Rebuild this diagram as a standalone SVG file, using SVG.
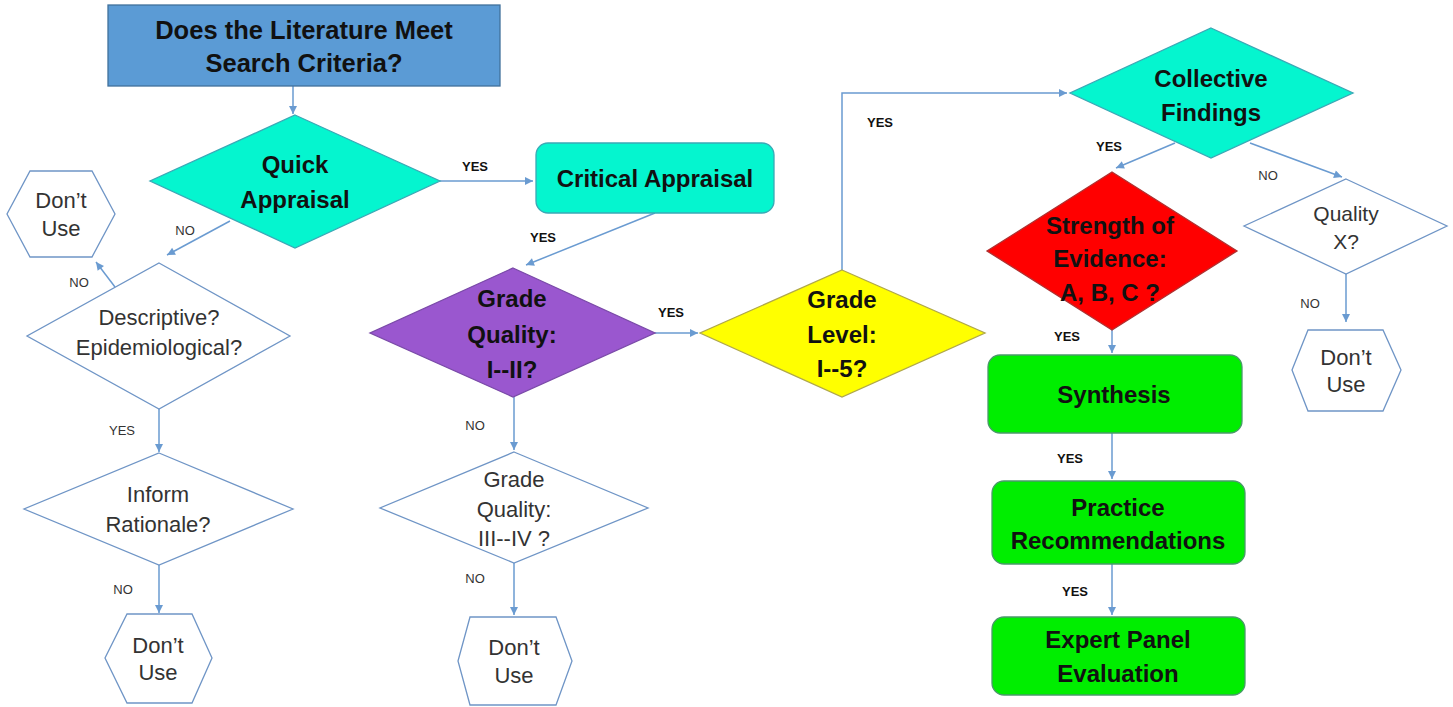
<svg xmlns="http://www.w3.org/2000/svg" width="1453" height="707" viewBox="0 0 1453 707">
<style>
.b{font-family:"Liberation Sans",Arial,sans-serif;font-weight:bold;font-size:24px;fill:#111;text-anchor:middle}
.r{font-family:"Liberation Sans",Arial,sans-serif;font-size:22px;fill:#333;text-anchor:middle}
.lb{font-family:"Liberation Sans",Arial,sans-serif;font-weight:bold;font-size:13px;fill:#111;text-anchor:middle}
.lr{font-family:"Liberation Sans",Arial,sans-serif;font-size:13px;fill:#333;text-anchor:middle}
.t{font-size:25.5px}
.s{font-size:21px}
.w{fill:#fff;stroke:#6f95c6;stroke-width:1.3}
.teal{fill:#05F5CF;stroke:#3aa9b6;stroke-width:1.3}
.grn{fill:#00EE00;stroke:#4a9a6a;stroke-width:1.3}
.c{fill:none;stroke:#6a9bd1;stroke-width:1.5}
</style>
<defs>
<marker id="ah" viewBox="0 0 10 10" refX="10" refY="5" markerWidth="9" markerHeight="8" markerUnits="userSpaceOnUse" orient="auto">
<path d="M0,0 L10,5 L0,10 z" fill="#6a9bd1"/>
</marker>
</defs>
<rect width="1453" height="707" fill="#fff"/>
<g id="connectors">
<line class="c" x1="293" y1="86" x2="293" y2="114" marker-end="url(#ah)"/>
<line class="c" x1="440" y1="181" x2="533" y2="181" marker-end="url(#ah)"/>
<line class="c" x1="230" y1="221" x2="167" y2="255" marker-end="url(#ah)"/>
<line class="c" x1="115" y1="287" x2="96" y2="262" marker-end="url(#ah)"/>
<line class="c" x1="159" y1="409" x2="159" y2="452" marker-end="url(#ah)"/>
<line class="c" x1="159" y1="565" x2="159" y2="613" marker-end="url(#ah)"/>
<line class="c" x1="655" y1="213" x2="526" y2="265" marker-end="url(#ah)"/>
<line class="c" x1="655" y1="333" x2="698" y2="333" marker-end="url(#ah)"/>
<line class="c" x1="514" y1="397" x2="514" y2="450" marker-end="url(#ah)"/>
<line class="c" x1="514" y1="563" x2="514" y2="615" marker-end="url(#ah)"/>
<polyline class="c" points="842,270 842,93 1067,93" marker-end="url(#ah)"/>
<line class="c" x1="1175" y1="143" x2="1116" y2="168" marker-end="url(#ah)"/>
<line class="c" x1="1250" y1="143" x2="1342" y2="177" marker-end="url(#ah)"/>
<line class="c" x1="1346" y1="274" x2="1346" y2="322" marker-end="url(#ah)"/>
<line class="c" x1="1112" y1="330" x2="1112" y2="353" marker-end="url(#ah)"/>
<line class="c" x1="1112" y1="433" x2="1112" y2="479" marker-end="url(#ah)"/>
<line class="c" x1="1112" y1="564" x2="1112" y2="615" marker-end="url(#ah)"/>
<text class="lb" x="475" y="171">YES</text>
<text class="lr" x="185" y="235">NO</text>
<text class="lr" x="79" y="287">NO</text>
<text class="lr" x="122" y="435">YES</text>
<text class="lr" x="123" y="594">NO</text>
<text class="lb" x="543" y="242">YES</text>
<text class="lb" x="671" y="317">YES</text>
<text class="lr" x="475" y="430">NO</text>
<text class="lr" x="475" y="583">NO</text>
<text class="lb" x="880" y="127">YES</text>
<text class="lb" x="1109" y="151">YES</text>
<text class="lr" x="1268" y="180">NO</text>
<text class="lr" x="1310" y="308">NO</text>
<text class="lb" x="1067" y="341">YES</text>
<text class="lb" x="1070" y="463">YES</text>
<text class="lb" x="1075" y="596">YES</text>
</g>
<g id="search-criteria">
<rect x="108" y="5" width="392" height="81" fill="#5B9BD5" stroke="#41719C" stroke-width="1.3"/>
<text class="b t" x="304" y="39">Does the Literature Meet</text>
<text class="b t" x="304" y="72">Search Criteria?</text>
</g>
<g id="quick-appraisal">
<polygon class="teal" points="295,115 440,181 295,248 150,181"/>
<text class="b" x="295" y="173">Quick</text>
<text class="b" x="295" y="208">Appraisal</text>
</g>
<g id="dont-use-1">
<polygon class="w" points="30,171 92,171 115,214 92,257 30,257 7,214"/>
<text class="r" x="61" y="208">Don’t</text>
<text class="r" x="61" y="236">Use</text>
</g>
<g id="descriptive">
<polygon class="w" points="159,263 290,336 159,409 27,336"/>
<text class="r" x="159" y="325">Descriptive?</text>
<text class="r" x="159" y="355">Epidemiological?</text>
</g>
<g id="inform-rationale">
<polygon class="w" points="159,453 293,509 159,565 24,509"/>
<text class="r" x="158" y="502">Inform</text>
<text class="r" x="158" y="532">Rationale?</text>
</g>
<g id="dont-use-2">
<polygon class="w" points="127,614 192,614 212,658 192,703 127,703 105,658"/>
<text class="r" x="158" y="653">Don’t</text>
<text class="r" x="158" y="680">Use</text>
</g>
<g id="critical-appraisal">
<rect class="teal" x="536" y="143" width="238" height="70" rx="12"/>
<text class="b" x="655" y="187">Critical Appraisal</text>
</g>
<g id="grade-quality-1-2">
<polygon points="513,268 655,333 513,397 370,333" fill="#9A57CF" stroke="#7a4aa8" stroke-width="1.3"/>
<text class="b" x="512" y="307">Grade</text>
<text class="b" x="512" y="343">Quality:</text>
<text class="b" x="512" y="378">I--II?</text>
</g>
<g id="grade-quality-3-4">
<polygon class="w" points="514,452 648,508 514,563 380,508"/>
<text class="r" x="514" y="487">Grade</text>
<text class="r" x="514" y="517">Quality:</text>
<text class="r" x="514" y="546">III--IV ?</text>
</g>
<g id="dont-use-3">
<polygon class="w" points="470,617 556,617 572,661 556,705 470,705 458,661"/>
<text class="r" x="514" y="655">Don’t</text>
<text class="r" x="514" y="683">Use</text>
</g>
<g id="grade-level">
<polygon points="842,270 985,333 842,397 700,333" fill="#FFFF00" stroke="#b0a84a" stroke-width="1.3"/>
<text class="b" x="842" y="308">Grade</text>
<text class="b" x="842" y="343">Level:</text>
<text class="b" x="842" y="377">I--5?</text>
</g>
<g id="collective-findings">
<polygon class="teal" points="1211,28 1353,93 1211,158 1070,93"/>
<text class="b" x="1211" y="87">Collective</text>
<text class="b" x="1211" y="121">Findings</text>
</g>
<g id="strength-of-evidence">
<polygon points="1112,172 1237,251 1112,330 987,251" fill="#FF0000" stroke="#b03030" stroke-width="1.3"/>
<text class="b" x="1110" y="234">Strength of</text>
<text class="b" x="1110" y="267">Evidence:</text>
<text class="b" x="1110" y="301">A, B, C ?</text>
</g>
<g id="quality-x">
<polygon class="w" points="1346,179 1447,226 1346,274 1244,226"/>
<text class="r s" x="1346" y="221">Quality</text>
<text class="r s" x="1346" y="249">X?</text>
</g>
<g id="dont-use-4">
<polygon class="w" points="1308,330 1383,330 1401,370 1383,411 1308,411 1292,370"/>
<text class="r" x="1346" y="365">Don’t</text>
<text class="r" x="1346" y="392">Use</text>
</g>
<g id="synthesis">
<rect class="grn" x="988" y="355" width="254" height="78" rx="12"/>
<text class="b" x="1114" y="403">Synthesis</text>
</g>
<g id="practice-recommendations">
<rect class="grn" x="992" y="481" width="253" height="83" rx="12"/>
<text class="b" x="1118" y="516">Practice</text>
<text class="b" x="1118" y="549">Recommendations</text>
</g>
<g id="expert-panel">
<rect class="grn" x="992" y="617" width="253" height="78" rx="12"/>
<text class="b" x="1118" y="648">Expert Panel</text>
<text class="b" x="1118" y="682">Evaluation</text>
</g>
</svg>
